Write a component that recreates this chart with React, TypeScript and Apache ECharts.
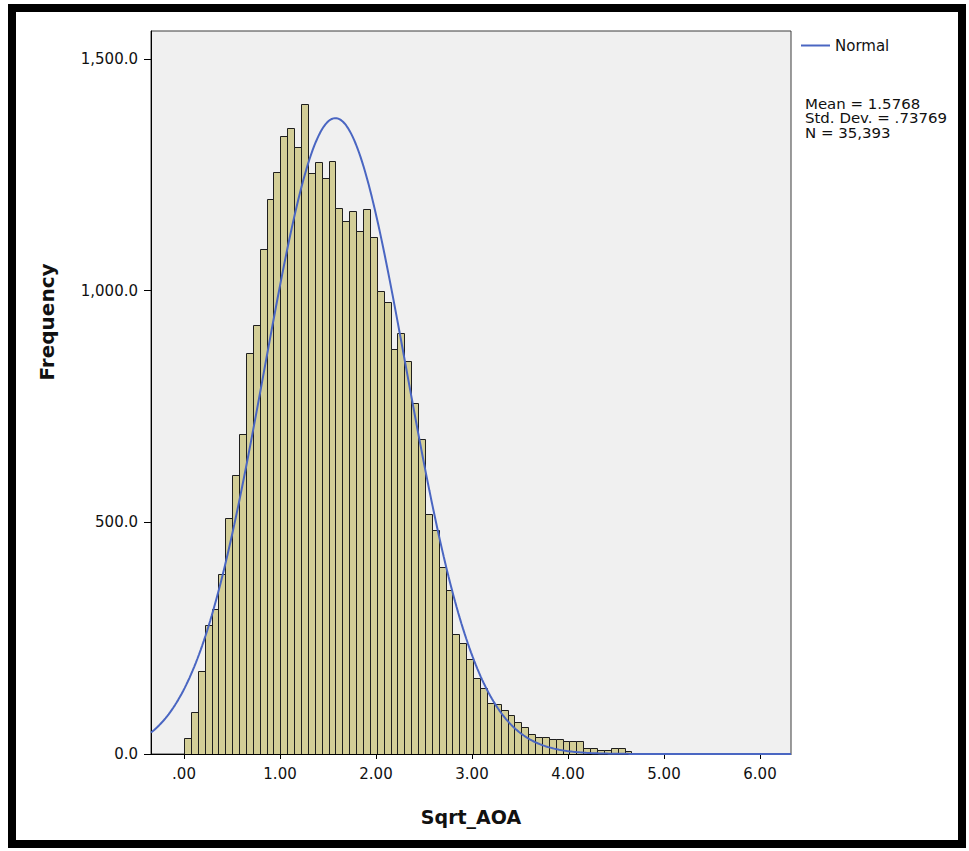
import React, { useEffect, useRef } from "react";
import * as echarts from "echarts";

// Histogram bins (start at 0, equal width)
const BIN_START = 0;
const BIN_WIDTH = 0.0717;
const FREQUENCIES = [
  35, 91, 180, 279, 312, 388, 510, 603, 690, 865,
  926, 1090, 1197, 1256, 1333, 1352, 1310, 1403, 1254, 1277,
  1244, 1279, 1179, 1151, 1172, 1129, 1176, 1116, 1000, 976,
  875, 909, 849, 758, 680, 519, 484, 404, 355, 258,
  239, 204, 165, 142, 109, 108, 95, 85, 70, 58,
  43, 37, 37, 32, 32, 29, 29, 29, 14, 13,
  9, 9, 13, 13, 6, 3, 3, 2, 2, 2,
  1, 1, 1, 0, 1, 1,
];

// Normal curve parameters (from the stats box)
const MEAN = 1.5768;
const STD_DEV = 0.73769;
const N_TOTAL = 35393;

const X_TICKS = [0, 1, 2, 3, 4, 5, 6];
const Y_TICKS = [0, 500, 1000, 1500];
const X_MIN = -0.344;
const X_MAX = 6.323;
const Y_MAX = 1560.4;

const STATS_LINES = ["Mean = 1.5768", "Std. Dev. = .73769", "N = 35,393"];

const FONT = "DejaVu Sans";

export default function App() {
  const ref = useRef<HTMLDivElement>(null);

  useEffect(() => {
    const chart = echarts.init(ref.current!, null, { renderer: "svg" });

    const bars = FREQUENCIES.map((f, i) => [
      BIN_START + i * BIN_WIDTH,
      BIN_START + (i + 1) * BIN_WIDTH,
      f,
    ]);

    const curve: number[][] = [];
    const steps = 400;
    for (let i = 0; i <= steps; i++) {
      const x = X_MIN + ((X_MAX - X_MIN) * i) / steps;
      const z = (x - MEAN) / STD_DEV;
      const y =
        (N_TOTAL * BIN_WIDTH * Math.exp(-0.5 * z * z)) /
        (STD_DEV * Math.sqrt(2 * Math.PI));
      curve.push([x, y]);
    }

    const statsTexts = STATS_LINES.map((t, i) => ({
      type: "text",
      x: 805,
      y: 97 + i * 14.5,
      scaleX: 1.07,
      style: {
        text: t,
        fontFamily: FONT,
        fontSize: 14,
        fill: "#111",
        verticalAlign: "top",
      },
    }));

    chart.setOption({
      animation: false,
      backgroundColor: "#ffffff",
      grid: {
        left: 151,
        top: 31,
        width: 640,
        height: 723,
        show: true,
        backgroundColor: "#f0f0f0",
        borderColor: "#3c3c3c",
        borderWidth: 1,
      },
      legend: {
        data: [{ name: "Normal", icon: "rect" }],
        left: 796,
        top: 33,
        itemWidth: 29,
        itemHeight: 2,
        textStyle: { fontFamily: FONT, fontSize: 15, color: "#111" },
      },
      xAxis: {
        type: "value",
        min: X_MIN,
        max: X_MAX,
        axisLine: { show: true, onZero: false, lineStyle: { color: "#000", width: 1 } },
        axisTick: {
          show: true,
          customValues: X_TICKS,
          length: 5,
          lineStyle: { color: "#000" },
        },
        axisLabel: {
          customValues: X_TICKS,
          margin: 12,
          fontFamily: FONT,
          fontSize: 15,
          color: "#111",
          formatter: (v: number) => {
            const s = v.toFixed(2);
            return s.startsWith("0") ? s.slice(1) : s;
          },
        },
        splitLine: { show: false },
      },
      yAxis: {
        type: "value",
        min: 0,
        max: Y_MAX,
        axisLine: { show: true, onZero: false, lineStyle: { color: "#000", width: 1 } },
        axisTick: {
          show: true,
          customValues: Y_TICKS,
          length: 7,
          lineStyle: { color: "#000" },
        },
        axisLabel: {
          customValues: Y_TICKS,
          margin: 13,
          fontFamily: FONT,
          fontSize: 15,
          color: "#111",
          formatter: (v: number) =>
            v.toLocaleString("en-US", {
              minimumFractionDigits: 1,
              maximumFractionDigits: 1,
            }),
        },
        splitLine: { show: false },
      },
      series: [
        {
          type: "custom",
          name: "Frequency",
          clip: true,
          data: bars,
          encode: { x: [0, 1], y: 2 },
          renderItem: (_params: any, api: any) => {
            const s = api.value(0);
            const e = api.value(1);
            const v = api.value(2);
            const p0 = api.coord([s, v]);
            const p1 = api.coord([e, 0]);
            const x0 = Math.round(p0[0]) + 0.5;
            const x1 = Math.round(p1[0]) + 0.5;
            const y0 = Math.round(p0[1]) + 0.5;
            const y1 = Math.round(p1[1]) + 0.5;
            return {
              type: "rect",
              shape: { x: x0, y: y0, width: x1 - x0, height: y1 - y0 },
              style: { fill: "#d3ce97", stroke: "#1e1e1e", lineWidth: 1 },
            };
          },
        },
        {
          type: "line",
          name: "Normal",
          data: curve,
          showSymbol: false,
          symbol: "none",
          smooth: false,
          lineStyle: { color: "#4a66c2", width: 2 },
          itemStyle: { color: "#4a66c2" },
          z: 5,
        },
      ],
      graphic: [
        {
          type: "rect",
          shape: { x: 12, y: 8, width: 950, height: 836 },
          style: { fill: "none", stroke: "#000", lineWidth: 8 },
          silent: true,
        },
        ...statsTexts,
        {
          type: "text",
          x: 47,
          y: 322,
          rotation: Math.PI / 2,
          style: {
            text: "Frequency",
            fontFamily: FONT,
            fontWeight: "bold",
            fontSize: 20,
            fill: "#111",
            align: "center",
            verticalAlign: "middle",
          },
        },
        {
          type: "text",
          x: 471,
          y: 817,
          style: {
            text: "Sqrt_AOA",
            fontFamily: FONT,
            fontWeight: "bold",
            fontSize: 19,
            fill: "#111",
            align: "center",
            verticalAlign: "middle",
          },
        },
      ],
    });

    return () => chart.dispose();
  }, []);

  return (
    <div
      ref={ref}
      style={{ position: "absolute", left: 0, top: 0, width: 969, height: 851, background: "#fff" }}
    />
  );
}
